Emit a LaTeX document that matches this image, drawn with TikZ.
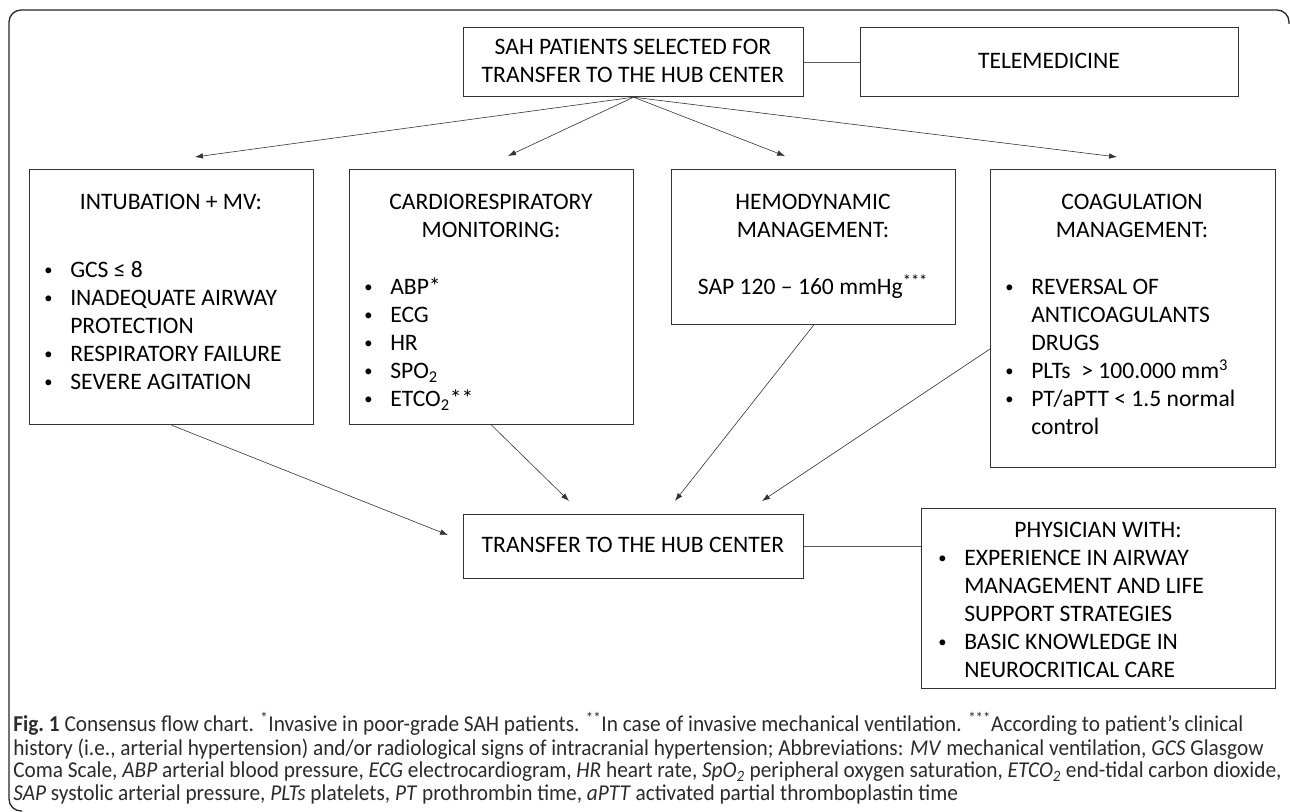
\documentclass[tikz,border=0pt]{standalone}
\usepackage{graphicx}
\usepackage{fontspec}
\setmainfont{Carlito}
\newfontfamily\capfont[FakeStretch=0.94]{Carlito}
\usetikzlibrary{arrows.meta, positioning}

\definecolor{boxline}{HTML}{333333}
\definecolor{captext}{HTML}{2B2B2B}

\newcommand{\hubcenter}{TRANSFER TO THE HUB CENTER}
\newcommand{\bl}{\makebox[19.5pt][l]{\raisebox{0.12em}{\scalebox{0.7}{\textbullet}}}}
\newcommand{\nobl}{\hspace*{19.5pt}}
\newcommand{\rows}[2]{\begin{tabular}[t]{@{}#1@{}}#2\end{tabular}}

\begin{document}
\begin{tikzpicture}[
        x=0.75pt, y=-0.75pt,
        >={Latex[length=6pt,width=4.2pt]},
        every node/.style={inner sep=0pt, font=\fontsize{17.7}{21}\selectfont},
        box/.style={draw=boxline, line width=0.9pt, anchor=north west},
        head/.style={anchor=base},
        list/.style={anchor=base west},
        link/.style={draw=boxline, line width=0.45pt},
        tie/.style={draw=black!65, line width=0.8pt},
        frame/.style={draw=black!85, line width=1pt, rounded corners=9pt}]
    \useasboundingbox (0,0) rectangle (1290,812);
    % Frame
    \draw[frame] (22,811) -- (9,811) -- (9,10) -- (1289,10) -- (1289,24);

    % Boxes
    \node[box, minimum width=255pt, minimum height=51.75pt] (sah) at (463,27) {};
    \node[box, minimum width=283.5pt, minimum height=51.75pt] (tele) at (860,27) {};
    \node[box, minimum width=213pt, minimum height=191.25pt] (intub) at (29,169) {};
    \node[box, minimum width=213pt, minimum height=191.25pt] (cardio) at (349,169) {};
    \node[box, minimum width=213pt, minimum height=116.25pt] (hemo) at (671,169) {};
    \node[box, minimum width=213.75pt, minimum height=223.5pt] (coag) at (990,169) {};
    \node[box, minimum width=255pt, minimum height=48pt] (hub) at (463,514) {};
    \node[box, minimum width=265.5pt, minimum height=135pt] (phys) at (921,508) {};

    % Texts
    \node[head] (sah-txt) at (633,55) {\rows{c}{SAH PATIENTS SELECTED FOR\\\hubcenter}};
    \node[head] (tele-txt) at (1049,69) {TELEMEDICINE};

    \node[head] (intub-head) at (171,210) {INTUBATION + MV:};
    \node[list] (intub-list) at (44,278) {\rows{l}{\bl GCS ≤ 8\\ \bl INADEQUATE AIRWAY\\ \nobl PROTECTION\\ \bl RESPIRATORY FAILURE\\ \bl SEVERE AGITATION}};

    \node[head] (cardio-head) at (491,210) {\rows{c}{CARDIORESPIRATORY\\MONITORING:}};
    \node[list] (cardio-list) at (364,295) {\rows{l}{\bl ABP*\\ \bl ECG\\ \bl HR\\ \bl SPO\textsubscript{2}\\ \bl ETCO\textsubscript{2}**}};

    \node[head] (hemo-head) at (813,210) {\rows{c}{HEMODYNAMIC\\MANAGEMENT:}};
    \node[head] (hemo-sap) at (813,295) {SAP 120 – 160 mmHg\textsuperscript{***}};

    \node[head] (coag-head) at (1132,210) {\rows{c}{COAGULATION\\MANAGEMENT:}};
    \node[list] (coag-list) at (1005,295) {\rows{l}{\bl REVERSAL OF\\ \nobl ANTICOAGULANTS\\ \nobl DRUGS\\ \bl PLTs~ > 100.000 mm\textsuperscript{3}\\ \bl PT/aPTT < 1.5 normal\\ \nobl control}};

    \node[head] (hub-txt) at (633,553) {\hubcenter};

    \node[head] (phys-head) at (1098,538) {PHYSICIAN WITH:};
    \node[list] (phys-list) at (938,566) {\rows{l}{\bl EXPERIENCE IN AIRWAY\\ \nobl MANAGEMENT AND LIFE\\ \nobl SUPPORT STRATEGIES\\ \bl BASIC KNOWLEDGE IN\\ \nobl NEUROCRITICAL CARE}};

    % Arrow ends
    \coordinate (to-intub) at (195,157);
    \coordinate (to-cardio) at (508,156);
    \coordinate (to-hemo) at (785,156);
    \coordinate (to-coag) at (1117,157);
    \coordinate (from-intub) at (448,535);
    \coordinate (from-cardio) at (569,501);
    \coordinate (from-hemo) at (675,501);
    \coordinate (from-coag) at (762,501);

    % Edges
    \draw[tie] (sah.east) -- (tele.west);
    \draw[->, link] (sah.south) -- (to-intub);
    \draw[->, link] (sah.south) -- (to-cardio);
    \draw[->, link] (sah.south) -- (to-hemo);
    \draw[->, link] (sah.south) -- (to-coag);

    \draw[->, link] (intub.south) -- (from-intub);
    \draw[->, link] (cardio.south) -- (from-cardio);
    \draw[->, link] (hemo.south) -- (from-hemo);
    \draw[->, link] (coag.192) -- (from-coag);

    \draw[tie] (hub.east) -- (hub.east -| phys.west);

    % Caption
    \node[anchor=base west, text=captext, font=\capfont\fontsize{17}{16.8}\selectfont] (caption) at (13,732) {\rows{l}{%
        \textbf{Fig.~1} Consensus flow chart. \textsuperscript{*}Invasive in poor-grade SAH patients. \textsuperscript{**}In case of invasive mechanical ventilation. \textsuperscript{***}According to patient’s clinical\\
        history (i.e., arterial hypertension) and/or radiological signs of intracranial hypertension; Abbreviations: \textit{MV} mechanical ventilation, \textit{GCS} Glasgow\\
        Coma Scale, \textit{ABP} arterial blood pressure, \textit{ECG} electrocardiogram, \textit{HR} heart rate, \textit{SpO\textsubscript{2}} peripheral oxygen saturation, \textit{ETCO\textsubscript{2}} end-tidal carbon dioxide,\\
        \textit{SAP} systolic arterial pressure, \textit{PLTs} platelets, \textit{PT} prothrombin time, \textit{aPTT} activated partial thromboplastin time}};
\end{tikzpicture}
\end{document}
